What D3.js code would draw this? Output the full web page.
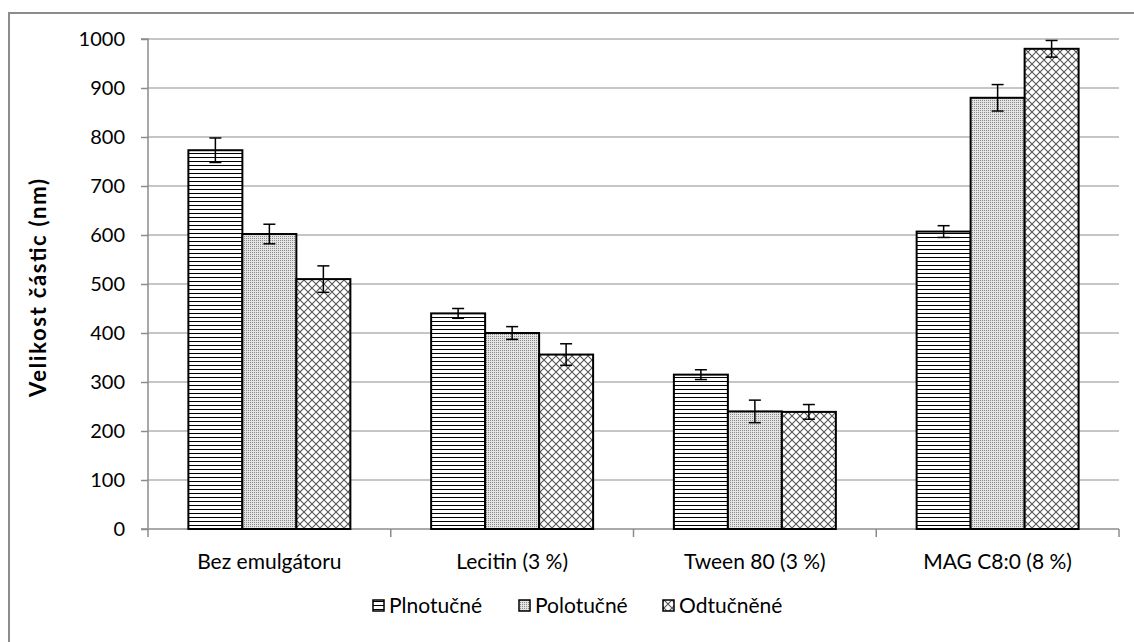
<!DOCTYPE html>
<html><head><meta charset="utf-8">
<script src="https://cdn.jsdelivr.net/npm/d3@7"></script>
<style>body{margin:0;background:#fff}svg{display:block}text{font-family:Lato,"Open Sans",sans-serif;fill:#000}</style>
</head><body><svg id="c" width="1134" height="642"></svg>
<script>
const categories = ["Bez emulgátoru","Lecitin (3 %)","Tween 80 (3 %)","MAG C8:0 (8 %)"];
const seriesNames = ["Plnotučné","Polotučné","Odtučněné"];
const plnotucne = [773, 440, 315, 607];
const polotucne = [602, 400, 240, 880];
const odtucnene = [510, 356, 239, 980];
const errPlnotucne = [25, 10, 10, 12];
const errPolotucne = [20, 13, 23, 27];
const errOdtucnene = [27, 22, 15, 17];
const yTicks = [0,100,200,300,400,500,600,700,800,900,1000];

const values = [plnotucne, polotucne, odtucnene];
const errs = [errPlnotucne, errPolotucne, errOdtucnene];

const svg = d3.select("#c");
const defs = svg.append("defs");
// patterns
const p1 = defs.append("pattern").attr("id","pat0").attr("patternUnits","userSpaceOnUse").attr("width",8).attr("height",4);
p1.append("rect").attr("width",8).attr("height",4).attr("fill","#fff");
p1.append("rect").attr("y",1).attr("width",8).attr("height",1).attr("fill","#000");
const p2 = defs.append("pattern").attr("id","pat1").attr("patternUnits","userSpaceOnUse").attr("width",2).attr("height",2);
p2.append("rect").attr("width",2).attr("height",2).attr("fill","#e4e4e4");
p2.append("rect").attr("width",1).attr("height",1).attr("fill","#8a8a8a");
const p3 = defs.append("pattern").attr("id","pat2").attr("patternUnits","userSpaceOnUse").attr("width",8).attr("height",8);
p3.append("rect").attr("width",8).attr("height",8).attr("fill","#fff");
p3.append("path").attr("d","M0,0L8,8M-4,4L4,12M4,-4L12,4M0,8L8,0M-4,4L4,-4M4,12L12,4").attr("stroke","#555").attr("stroke-width",1.1);

// frame
svg.append("rect").attr("x",9).attr("y",13).attr("width",1200).attr("height",700)
  .attr("fill","none").attr("stroke","#8c8c8c").attr("stroke-width",2);

const m = {left:148, right:1119, top:39, bottom:529};
const y = d3.scaleLinear().domain([0,1000]).range([m.bottom, m.top]);
const x0 = d3.scaleBand().domain(categories).range([m.left, m.right]).paddingInner(0).paddingOuter(0);
const x1 = d3.scaleBand().domain(seriesNames).range([0, x0.bandwidth()]).paddingInner(0).paddingOuter(0.748);

// gridlines
svg.append("g").selectAll("line").data(yTicks.filter(d=>d>0)).join("line")
  .attr("x1",m.left).attr("x2",m.right).attr("y1",d=>y(d)).attr("y2",d=>y(d))
  .attr("stroke","#b3b3b3").attr("stroke-width",1.5);

// y axis
const ya = svg.append("g").attr("transform",`translate(${m.left},0)`)
  .call(d3.axisLeft(y).tickValues(yTicks).tickSize(7).tickPadding(16).tickFormat(d3.format("d")));
ya.select(".domain").attr("stroke","#8c8c8c").attr("stroke-width",1.5).attr("d",`M-7,${m.top}H0V${m.bottom}H-7`);
ya.selectAll(".tick line").attr("stroke","#8c8c8c").attr("stroke-width",1.5);
ya.selectAll(".tick text").style("font-size","20px").style("font-family","Lato").attr("fill","#000");

// x axis
const bounds = categories.map(c=>x0(c)).concat([m.right]);
svg.append("line").attr("x1",m.left).attr("x2",m.right).attr("y1",m.bottom).attr("y2",m.bottom)
  .attr("stroke","#8c8c8c").attr("stroke-width",1.5);
svg.append("g").selectAll("line").data(bounds).join("line")
  .attr("x1",d=>d).attr("x2",d=>d).attr("y1",m.bottom).attr("y2",m.bottom+8)
  .attr("stroke","#8c8c8c").attr("stroke-width",1.5);
svg.append("g").selectAll("text").data(categories).join("text")
  .attr("x",d=>x0(d)+x0.bandwidth()/2).attr("y",569).attr("text-anchor","middle")
  .style("font-size","21px").text(d=>d);

// bars
const data = [];
categories.forEach((c,i)=>seriesNames.forEach((s,j)=>data.push({c,s,j,v:values[j][i],e:errs[j][i]})));
const g = svg.append("g");
g.selectAll("rect").data(data).join("rect")
  .attr("x",d=>x0(d.c)+x1(d.s)).attr("width",x1.bandwidth())
  .attr("y",d=>y(d.v)).attr("height",d=>y(0)-y(d.v))
  .attr("fill",d=>`url(#pat${d.j})`).attr("stroke","#000").attr("stroke-width",2);

// error bars
const eb = svg.append("g").attr("stroke","#000").attr("stroke-width",1.5);
data.forEach(d=>{
  const cx = x0(d.c)+x1(d.s)+x1.bandwidth()/2;
  eb.append("line").attr("x1",cx).attr("x2",cx).attr("y1",y(d.v+d.e)).attr("y2",y(d.v-d.e));
  eb.append("line").attr("x1",cx-6).attr("x2",cx+6).attr("y1",y(d.v+d.e)).attr("y2",y(d.v+d.e));
  eb.append("line").attr("x1",cx-6).attr("x2",cx+6).attr("y1",y(d.v-d.e)).attr("y2",y(d.v-d.e));
});

// y title
svg.append("text").attr("transform","translate(46,288) rotate(-90)").attr("text-anchor","middle")
  .attr("textLength",218).attr("lengthAdjust","spacing")
  .style("font-size","22px").style("font-weight","bold").text("Velikost částic (nm)");

// legend
const legX = [372, 518, 662];
const lg = svg.append("g");
seriesNames.forEach((s,j)=>{
  lg.append("rect").attr("x",legX[j]+1).attr("y",600).attr("width",11).attr("height",11)
    .attr("fill",`url(#pat${j})`).attr("stroke","#000").attr("stroke-width",1.5);
  lg.append("text").attr("x",legX[j]+17).attr("y",613).style("font-size","21px").text(s);
});
</script></body></html>
